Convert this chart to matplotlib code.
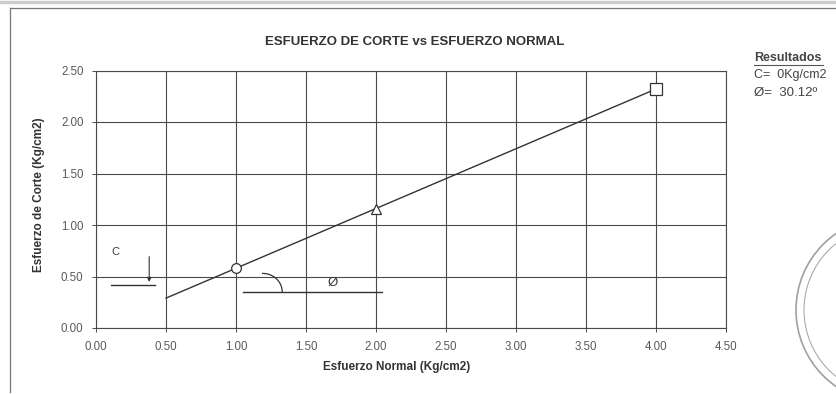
import numpy as np
import matplotlib
matplotlib.use("Agg")
import matplotlib.pyplot as plt
from matplotlib.lines import Line2D
from matplotlib.patches import Ellipse

plt.rcParams['font.family'] = ['Liberation Sans', 'DejaVu Sans']

# ---- data ----
normal_stress = [1.00, 2.00, 4.00]          # Kg/cm2
shear_stress = [0.58, 1.16, 2.32]           # Kg/cm2
markers = ['o', '^', 's']
phi_deg = 30.12
cohesion = 0.0
fit_x = [0.50, 4.00]
x_ticks = [0.0, 0.5, 1.0, 1.5, 2.0, 2.5, 3.0, 3.5, 4.0, 4.5]
y_ticks = [0.0, 0.5, 1.0, 1.5, 2.0, 2.5]
title = "ESFUERZO DE CORTE vs ESFUERZO NORMAL"
xlabel = "Esfuerzo Normal (Kg/cm2)"
ylabel = "Esfuerzo de Corte (Kg/cm2)"
results = ["C=  0Kg/cm2", "Ø=  30.12º"]

W, H = 837, 394
fig = plt.figure(figsize=(W / 100, H / 100), dpi=100)
ax = fig.add_axes([96 / W, 1 - 328 / H, 630 / W, 257.5 / H])

grid_c = '#4a4a4a'
txt_c = '#3a3a3a'

ax.set_xlim(x_ticks[0], x_ticks[-1])
ax.set_ylim(y_ticks[0], y_ticks[-1])
ax.set_xticks(x_ticks)
ax.set_yticks(y_ticks)
ax.set_xticklabels([f"{v:.2f}" for v in x_ticks])
ax.set_yticklabels([f"{v:.2f}" for v in y_ticks])
ax.tick_params(labelsize=8.3, colors=grid_c, labelcolor='#5a5a5a', length=3, width=0.7, pad=6)
ax.grid(True, color=grid_c, linewidth=0.8)
ax.set_axisbelow(True)
for s in ax.spines.values():
    s.set_color(grid_c)
    s.set_linewidth(0.8)

# fitted line
tanphi = np.tan(np.radians(phi_deg))
fy = [cohesion + tanphi * x for x in fit_x]
ax.plot(fit_x, fy, color='#333333', linewidth=1.0, zorder=3)

# points
for x, y, m in zip(normal_stress, shear_stress, markers):
    ax.plot([x], [y], marker=m, markersize=7 if m != 's' else 8, markerfacecolor='white',
            markeredgecolor='#333333', markeredgewidth=0.9, linestyle='none', zorder=4)

# cohesion annotation
ax.text(0.136, 0.74, "C", fontsize=8, color=txt_c, ha='center', va='center')
ax.plot([0.107, 0.42], [0.42, 0.42], color='#333333', linewidth=1.0)
ax.annotate("", xy=(0.38, 0.42), xytext=(0.38, 0.72),
            arrowprops=dict(arrowstyle='-|>', color='#333333', lw=0.8, mutation_scale=6))

# friction angle annotation
ax.plot([1.05, 2.04], [0.35, 0.35], color='#333333', linewidth=1.0)
t = np.linspace(0, np.pi / 2, 40)
ax.plot(1.19 + 0.14 * np.sin(t), 0.35 + 0.18 * np.cos(t), color='#333333', linewidth=0.9)
ax.text(1.69, 0.44, "Ø", fontsize=9.5, color=txt_c, ha='center', va='center')

# titles
fig.text(415 / W, 1 - 42 / H, title, fontsize=9.5, fontweight='bold', color='#333333',
         ha='center', va='center')
fig.text(397 / W, 1 - 367 / H, xlabel, fontsize=8.5, fontweight='bold', color='#333333',
         ha='center', va='center')
fig.text(39 / W, 1 - 195 / H, ylabel, fontsize=8.5, fontweight='bold', color='#333333',
         ha='center', va='center', rotation=90)

# results
fig.text(754 / W, 1 - 58 / H, "Resultados", fontsize=9, fontweight='bold', color='#444444',
         ha='left', va='center')
fig.add_artist(Line2D([754 / W, 823 / W], [1 - 65 / H, 1 - 65 / H], color='#555555', linewidth=0.8))
fig.text(754 / W, 1 - 75 / H, results[0], fontsize=9, color='#444444', ha='left', va='center')
fig.text(754 / W, 1 - 93 / H, results[1], fontsize=9.5, color='#444444', ha='left', va='center')

# page frame
fig.add_artist(Line2D([10 / W, 10 / W], [1 - 8 / H, 1 - 392 / H], color='#777777', linewidth=0.9))
fig.add_artist(Line2D([10 / W, 1.0], [1 - 8 / H, 1 - 8 / H], color='#777777', linewidth=0.9))
fig.add_artist(Line2D([0, 1.0], [1 - 1.5 / H, 1 - 1.5 / H], color='#cccccc', linewidth=2.5))

# stamp (partial)
for r, lw in [(93, 1.2), (85, 0.7)]:
    fig.add_artist(Ellipse((889 / W, 1 - 310 / H), 2 * r / W, 2 * r / H, transform=fig.transFigure,
                           fill=False, edgecolor='#a0a0a0', linewidth=lw))

fig.savefig("out.png", dpi=100)
